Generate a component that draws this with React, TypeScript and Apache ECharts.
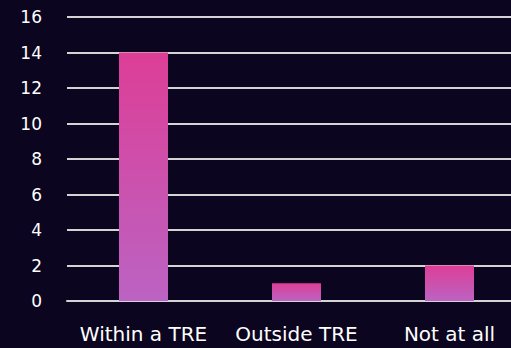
import React, { useEffect, useRef } from "react";
import * as echarts from "echarts";

const categories = ["Within a TRE", "Outside TRE", "Not at all"];
const counts = [14, 1, 2];
const yTicks = { min: 0, max: 16, interval: 2 };

export default function App() {
  const ref = useRef<HTMLDivElement>(null);

  useEffect(() => {
    document.body.style.margin = "0";
    const chart = echarts.init(ref.current!, null, { renderer: "svg" });
    const barFill = new echarts.graphic.LinearGradient(0, 0, 0, 1, [
      { offset: 0, color: "#dd3e96" },
      { offset: 1, color: "#bb63c3" },
    ]);
    chart.setOption({
      animation: false,
      backgroundColor: "#0b051f",
      textStyle: { fontFamily: "DejaVu Sans" },
      // the chart canvas is wider than the visible frame; the plot is cropped on the right
      grid: { left: 67, right: 4, top: 17, bottom: 47, containLabel: false },
      xAxis: {
        type: "category",
        data: categories,
        axisLine: { show: true, lineStyle: { color: "#d4d4d4", width: 2 } },
        axisTick: { show: false },
        axisLabel: {
          color: "#ffffff",
          fontSize: 20,
          margin: 23,
          interval: 0,
          hideOverlap: false,
          fontFamily: "DejaVu Sans",
        },
      },
      yAxis: {
        type: "value",
        min: yTicks.min,
        max: yTicks.max,
        interval: yTicks.interval,
        axisLine: { show: false },
        axisTick: { show: false },
        axisLabel: { color: "#ffffff", fontSize: 17, margin: 25, fontFamily: "DejaVu Sans" },
        splitLine: { lineStyle: { color: "#d4d4d4", width: 2 } },
      },
      series: [
        {
          type: "bar",
          data: counts,
          barWidth: 49,
          itemStyle: { color: barFill },
        },
      ],
    });
    return () => chart.dispose();
  }, []);

  return (
    <div style={{ position: "fixed", left: 0, top: 0, width: 511, height: 348, overflow: "hidden" }}>
      <div ref={ref} style={{ width: 530, height: 348 }} />
    </div>
  );
}
